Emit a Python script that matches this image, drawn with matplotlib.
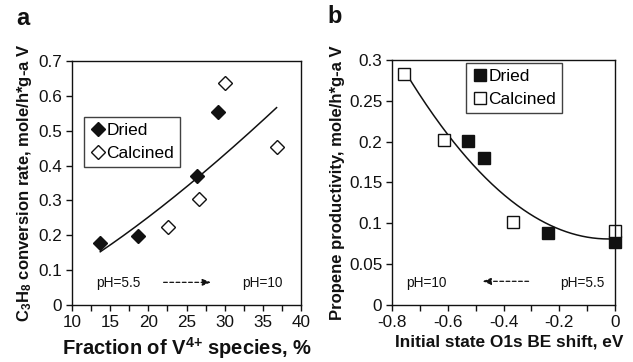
import numpy as np
import matplotlib
matplotlib.use("Agg")
import matplotlib.pyplot as plt
from matplotlib.ticker import MultipleLocator, FuncFormatter

plt.rcParams['font.family'] = ['Liberation Sans', 'DejaVu Sans']
plt.rcParams['mathtext.fontset'] = 'custom'
plt.rcParams['mathtext.rm'] = 'Liberation Sans'
plt.rcParams['mathtext.bf'] = 'Liberation Sans:bold'
plt.rcParams['mathtext.default'] = 'bf'

# Panel a data
a_dried_x = [13.7, 18.65, 26.35, 29.15]
a_dried_y = [0.177, 0.199, 0.370, 0.554]
a_calc_x = [22.6, 26.65, 30.0, 36.8]
a_calc_y = [0.224, 0.303, 0.638, 0.454]

# Panel b data
b_dried_x = [-0.527, -0.469, -0.241, 0.0]
b_dried_y = [0.201, 0.180, 0.0885, 0.0775]
b_calc_x = [-0.757, -0.6125, -0.365, 0.0]
b_calc_y = [0.283, 0.202, 0.102, 0.091]

fig = plt.figure(figsize=(6.33, 3.62), dpi=100)
W, H = 633, 362
axa = fig.add_axes([72 / W, 1 - 305 / H, 229 / W, 244 / H])
axb = fig.add_axes([392 / W, 1 - 305 / H, 223 / W, 245 / H])

ink = '#111111'
tick_fs = 12.3

def style(ax):
    for s in ax.spines.values():
        s.set_color(ink)
        s.set_linewidth(1.0)
    ax.tick_params(axis='both', which='both', direction='out', length=4, width=1,
                   color=ink, labelsize=tick_fs, labelcolor=ink, pad=3,
                   top=False, right=False)

# ---------- Panel a ----------
xa_all = np.array(a_dried_x + a_calc_x)
ya_all = np.array(a_dried_y + a_calc_y)
b_, lna = np.polyfit(np.log(xa_all), np.log(ya_all), 1)
xf = np.linspace(xa_all.min(), xa_all.max(), 200)
axa.plot(xf, np.exp(lna) * xf ** b_, color=ink, lw=1.1)
axa.plot(a_dried_x, a_dried_y, 'D', ms=7.5, color=ink, mec=ink, ls='none', label='Dried')
axa.plot(a_calc_x, a_calc_y, 'D', ms=7.5, mfc='white', mec=ink, mew=1.0, ls='none', label='Calcined')
axa.set_xlim(10, 40)
axa.set_ylim(0, 0.7)
axa.xaxis.set_major_locator(MultipleLocator(5))
axa.xaxis.set_minor_locator(MultipleLocator(2.5))
axa.yaxis.set_major_locator(MultipleLocator(0.1))
axa.yaxis.set_major_formatter(FuncFormatter(lambda v, p: '0' if abs(v) < 1e-9 else f'{v:.1f}'))
style(axa)
axa.set_xlabel('Fraction of V$^{4{+}}$ species, %', fontsize=14.5, fontweight='bold', color=ink)
axa.xaxis.set_label_coords(0.5, -0.122)
axa.set_ylabel('C$_3$H$_8$ conversion rate, mole/h*g-a V', fontsize=12, fontweight='bold', color=ink, labelpad=3)
leg = axa.legend(loc='upper left', bbox_to_anchor=(0.052, 0.770), fontsize=12.5, frameon=True,
                 fancybox=False, edgecolor=ink, handletextpad=0.05, handlelength=0.9,
                 borderpad=0.35, labelspacing=0.45, borderaxespad=0)
leg.get_frame().set_linewidth(1.0)
axa.text(13.2, 0.063, 'pH=5.5', fontsize=9.8, color=ink, va='center', ha='left')
axa.text(32.3, 0.063, 'pH=10', fontsize=9.8, color=ink, va='center', ha='left')
axa.annotate('', xy=(28.2, 0.065), xytext=(22.0, 0.065),
             arrowprops=dict(arrowstyle='-|>,head_length=0.5,head_width=0.2', ls=(0, (3, 2)),
                             color=ink, lw=0.9, shrinkA=0, shrinkB=0))
axa.text(-0.245, 1.176, 'a', transform=axa.transAxes, fontsize=17, fontweight='bold', color=ink,
         va='center', ha='left')

# ---------- Panel b ----------
xb_all = np.array(b_dried_x + b_calc_x)
yb_all = np.array(b_dried_y + b_calc_y)
coef = np.polyfit(xb_all, yb_all, 2)
xfb = np.linspace(xb_all.min(), xb_all.max(), 200)
axb.plot(xfb, np.polyval(coef, xfb), color=ink, lw=1.1)
axb.plot(b_dried_x, b_dried_y, 's', ms=8, color=ink, mec=ink, ls='none', label='Dried', clip_on=False)
axb.plot(b_calc_x, b_calc_y, 's', ms=8, mfc='white', mec=ink, mew=1.0, ls='none', label='Calcined', clip_on=False)
axb.set_xlim(-0.8, 0)
axb.set_ylim(0, 0.3)
axb.xaxis.set_major_locator(MultipleLocator(0.2))
axb.xaxis.set_minor_locator(MultipleLocator(0.1))
axb.yaxis.set_major_locator(MultipleLocator(0.05))
axb.xaxis.set_major_formatter(FuncFormatter(lambda v, p: '0' if abs(v) < 1e-9 else f'{v:.1f}'))
axb.yaxis.set_major_formatter(FuncFormatter(lambda v, p: '0' if abs(v) < 1e-9 else f'{v:g}'))
style(axb)
axb.set_xlabel('Initial state O1s BE shift, eV', fontsize=12.4, fontweight='bold', color=ink)
axb.xaxis.set_label_coords(0.525, -0.122)
axb.set_ylabel('Propene productivity, mole/h*g-a V', fontsize=12, fontweight='bold', color=ink, labelpad=3)
legb = axb.legend(loc='upper left', bbox_to_anchor=(0.332, 0.989), fontsize=12.5, frameon=True,
                  fancybox=False, edgecolor=ink, handletextpad=0.05, handlelength=0.9,
                  borderpad=0.35, labelspacing=0.45, borderaxespad=0)
legb.get_frame().set_linewidth(1.0)
axb.text(-0.75, 0.027, 'pH=10', fontsize=9.8, color=ink, va='center', ha='left')
axb.text(-0.198, 0.027, 'pH=5.5', fontsize=9.8, color=ink, va='center', ha='left')
axb.annotate('', xy=(-0.475, 0.029), xytext=(-0.31, 0.029),
             arrowprops=dict(arrowstyle='-|>,head_length=0.5,head_width=0.2', ls=(0, (3, 2)),
                             color=ink, lw=0.9, shrinkA=0, shrinkB=0))
axb.text(-0.29, 1.176, 'b', transform=axb.transAxes, fontsize=17, fontweight='bold', color=ink,
         va='center', ha='left')

fig.savefig('out.png', dpi=100, facecolor='white')
